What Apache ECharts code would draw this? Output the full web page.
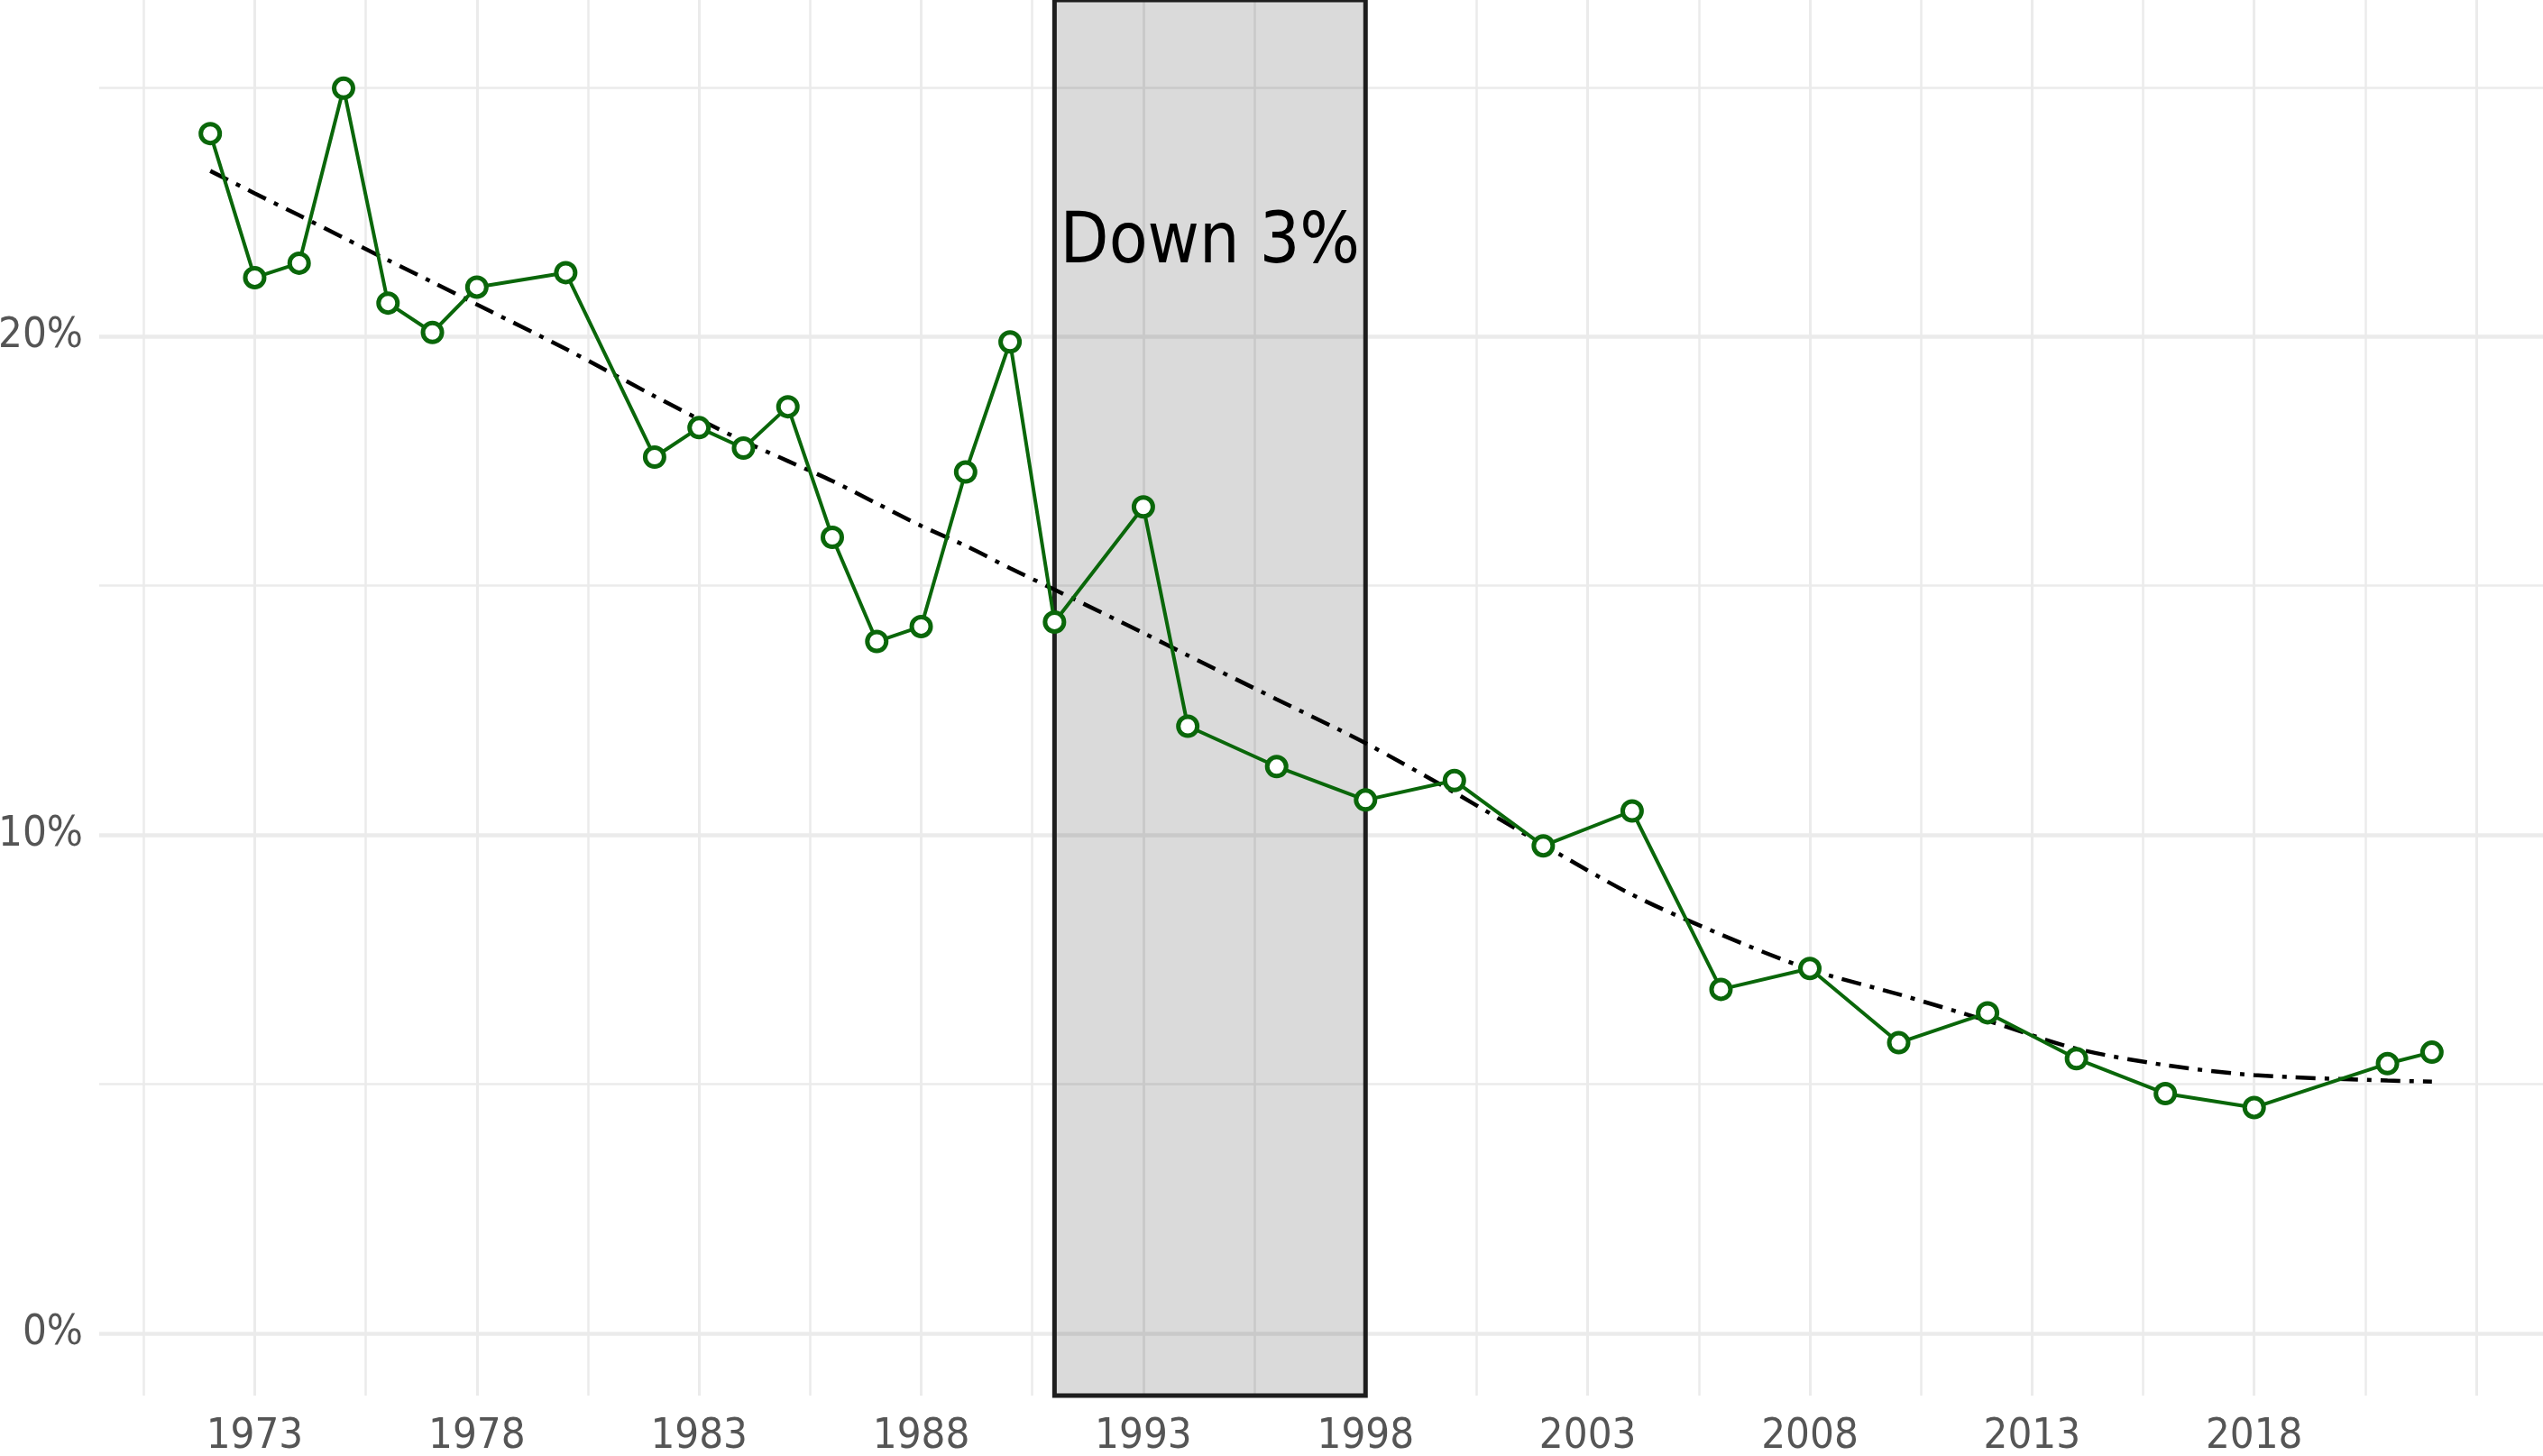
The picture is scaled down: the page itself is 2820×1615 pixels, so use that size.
<!DOCTYPE html>
<html>
<head>
<meta charset="utf-8">
<title>Trend</title>
<script src="https://cdn.jsdelivr.net/npm/echarts@6/dist/echarts.min.js"></script>
<style>
  html, body { margin: 0; padding: 0; background: #ffffff; }
  #chart { width: 2820px; height: 1615px; }
</style>
</head>
<body>
<div id="chart"></div>
<script>
// ---- data ----
const years = [1972,1973,1974,1975,1976,1977,1978,1980,1982,1983,1984,1985,1986,1987,1988,1989,1990,1991,1993,1994,1996,1998,2000,2002,2004,2006,2008,2010,2012,2014,2016,2018,2021,2022];
const values = [24.07,21.18,21.47,24.98,20.67,20.08,20.99,21.28,17.58,18.17,17.76,18.59,15.97,13.88,14.18,17.28,19.89,14.27,16.58,12.18,11.37,10.70,11.09,9.78,10.48,6.90,7.32,5.83,6.43,5.51,4.81,4.53,5.41,5.64];
const trendValues = [23.32,22.87,22.43,21.98,21.53,21.09,20.64,19.75,18.80,18.34,17.90,17.50,17.10,16.65,16.20,15.80,15.35,14.92,14.05,13.60,12.72,11.84,10.85,9.80,8.80,8.00,7.30,6.80,6.27,5.71,5.38,5.18,5.07,5.05];

const shadeRange = [1991, 1998];
const annotation = { x: 1994.5, y: 21.85, text: 'Down 3%' };

const xMajorTicks = [1973,1978,1983,1988,1993,1998,2003,2008,2013,2018,2023];
const xMinorTicks = [1970.5,1975.5,1980.5,1985.5,1990.5,1995.5,2000.5,2005.5,2010.5,2015.5,2020.5];
const xLabels = [1973,1978,1983,1988,1993,1998,2003,2008,2013,2018];
const yMajorTicks = [0,10,20];
const yMinorTicks = [5,15,25];
const yLabels = [0,10,20];

// ---- chart ----
const FONT = '"Liberation Sans Narrow", "DejaVu Sans Condensed", sans-serif';
const GRID_COLOR = '#ebebeb';
const GREEN = '#0a670a';

const chart = echarts.init(document.getElementById('chart'), null, { renderer: 'canvas' });

const xBase = { type: 'value', min: 1969.5, max: 2024.5, axisLine: { show: false } };
const yBase = { type: 'value', min: -1.25, max: 26.75, axisLine: { show: false } };

const option = {
  animation: false,
  backgroundColor: '#ffffff',
  grid: { left: 110, right: 0, top: 0, bottom: 67, containLabel: false, outerBoundsMode: 'none' },
  xAxis: [
    Object.assign({}, xBase, {
      axisTick: { show: false, customValues: xMajorTicks },
      axisLabel: {
        customValues: xLabels, margin: 22, fontSize: 47, fontFamily: FONT, color: '#555555',
        formatter: v => String(v)
      },
      splitLine: { show: true, lineStyle: { color: GRID_COLOR, width: 3 } }
    }),
    Object.assign({}, xBase, {
      position: 'bottom',
      axisTick: { show: false, customValues: xMinorTicks },
      axisLabel: { show: false },
      splitLine: { show: true, lineStyle: { color: GRID_COLOR, width: 2.5 } }
    })
  ],
  yAxis: [
    Object.assign({}, yBase, {
      axisTick: { show: false, customValues: yMajorTicks },
      axisLabel: {
        customValues: yLabels, margin: 18, fontSize: 47, fontFamily: FONT, color: '#555555',
        formatter: v => v + '%'
      },
      splitLine: { show: true, lineStyle: { color: GRID_COLOR, width: 4.5 } }
    }),
    Object.assign({}, yBase, {
      position: 'left',
      axisTick: { show: false, customValues: yMinorTicks },
      axisLabel: { show: false },
      splitLine: { show: true, lineStyle: { color: GRID_COLOR, width: 2.7 } }
    })
  ],
  series: [
    {
      name: 'shade',
      type: 'line',
      xAxisIndex: 0, yAxisIndex: 0,
      data: [],
      z: 1,
      silent: true,
      markArea: {
        silent: true,
        itemStyle: { color: 'rgba(0,0,0,0.145)', borderColor: '#1e1e1e', borderWidth: 5 },
        data: [[{ xAxis: shadeRange[0] }, { xAxis: shadeRange[1] }]]
      }
    },
    {
      name: 'trend',
      type: 'line',
      xAxisIndex: 0, yAxisIndex: 0,
      data: years.map((y, i) => [y, trendValues[i]]),
      symbol: 'none',
      smooth: 0.3,
      z: 3,
      lineStyle: { color: '#000000', width: 4.5, type: [22, 10, 5, 10], cap: 'butt' }
    },
    {
      name: 'value',
      type: 'line',
      xAxisIndex: 0, yAxisIndex: 0,
      data: years.map((y, i) => [y, values[i]]),
      symbol: 'circle',
      symbolSize: 21,
      z: 4,
      lineStyle: { color: GREEN, width: 4 },
      itemStyle: { color: '#ffffff', borderColor: GREEN, borderWidth: 5 }
    },
    {
      name: 'annotation',
      type: 'scatter',
      xAxisIndex: 0, yAxisIndex: 0,
      data: [[annotation.x, annotation.y]],
      symbolSize: 1,
      itemStyle: { color: 'rgba(0,0,0,0)' },
      z: 5,
      silent: true,
      label: {
        show: true,
        position: 'inside',
        formatter: annotation.text,
        fontSize: 78,
        fontFamily: FONT,
        color: '#000000',
        opacity: 1,
        textBorderWidth: 0
      }
    }
  ]
};

chart.setOption(option);
</script>
</body>
</html>
